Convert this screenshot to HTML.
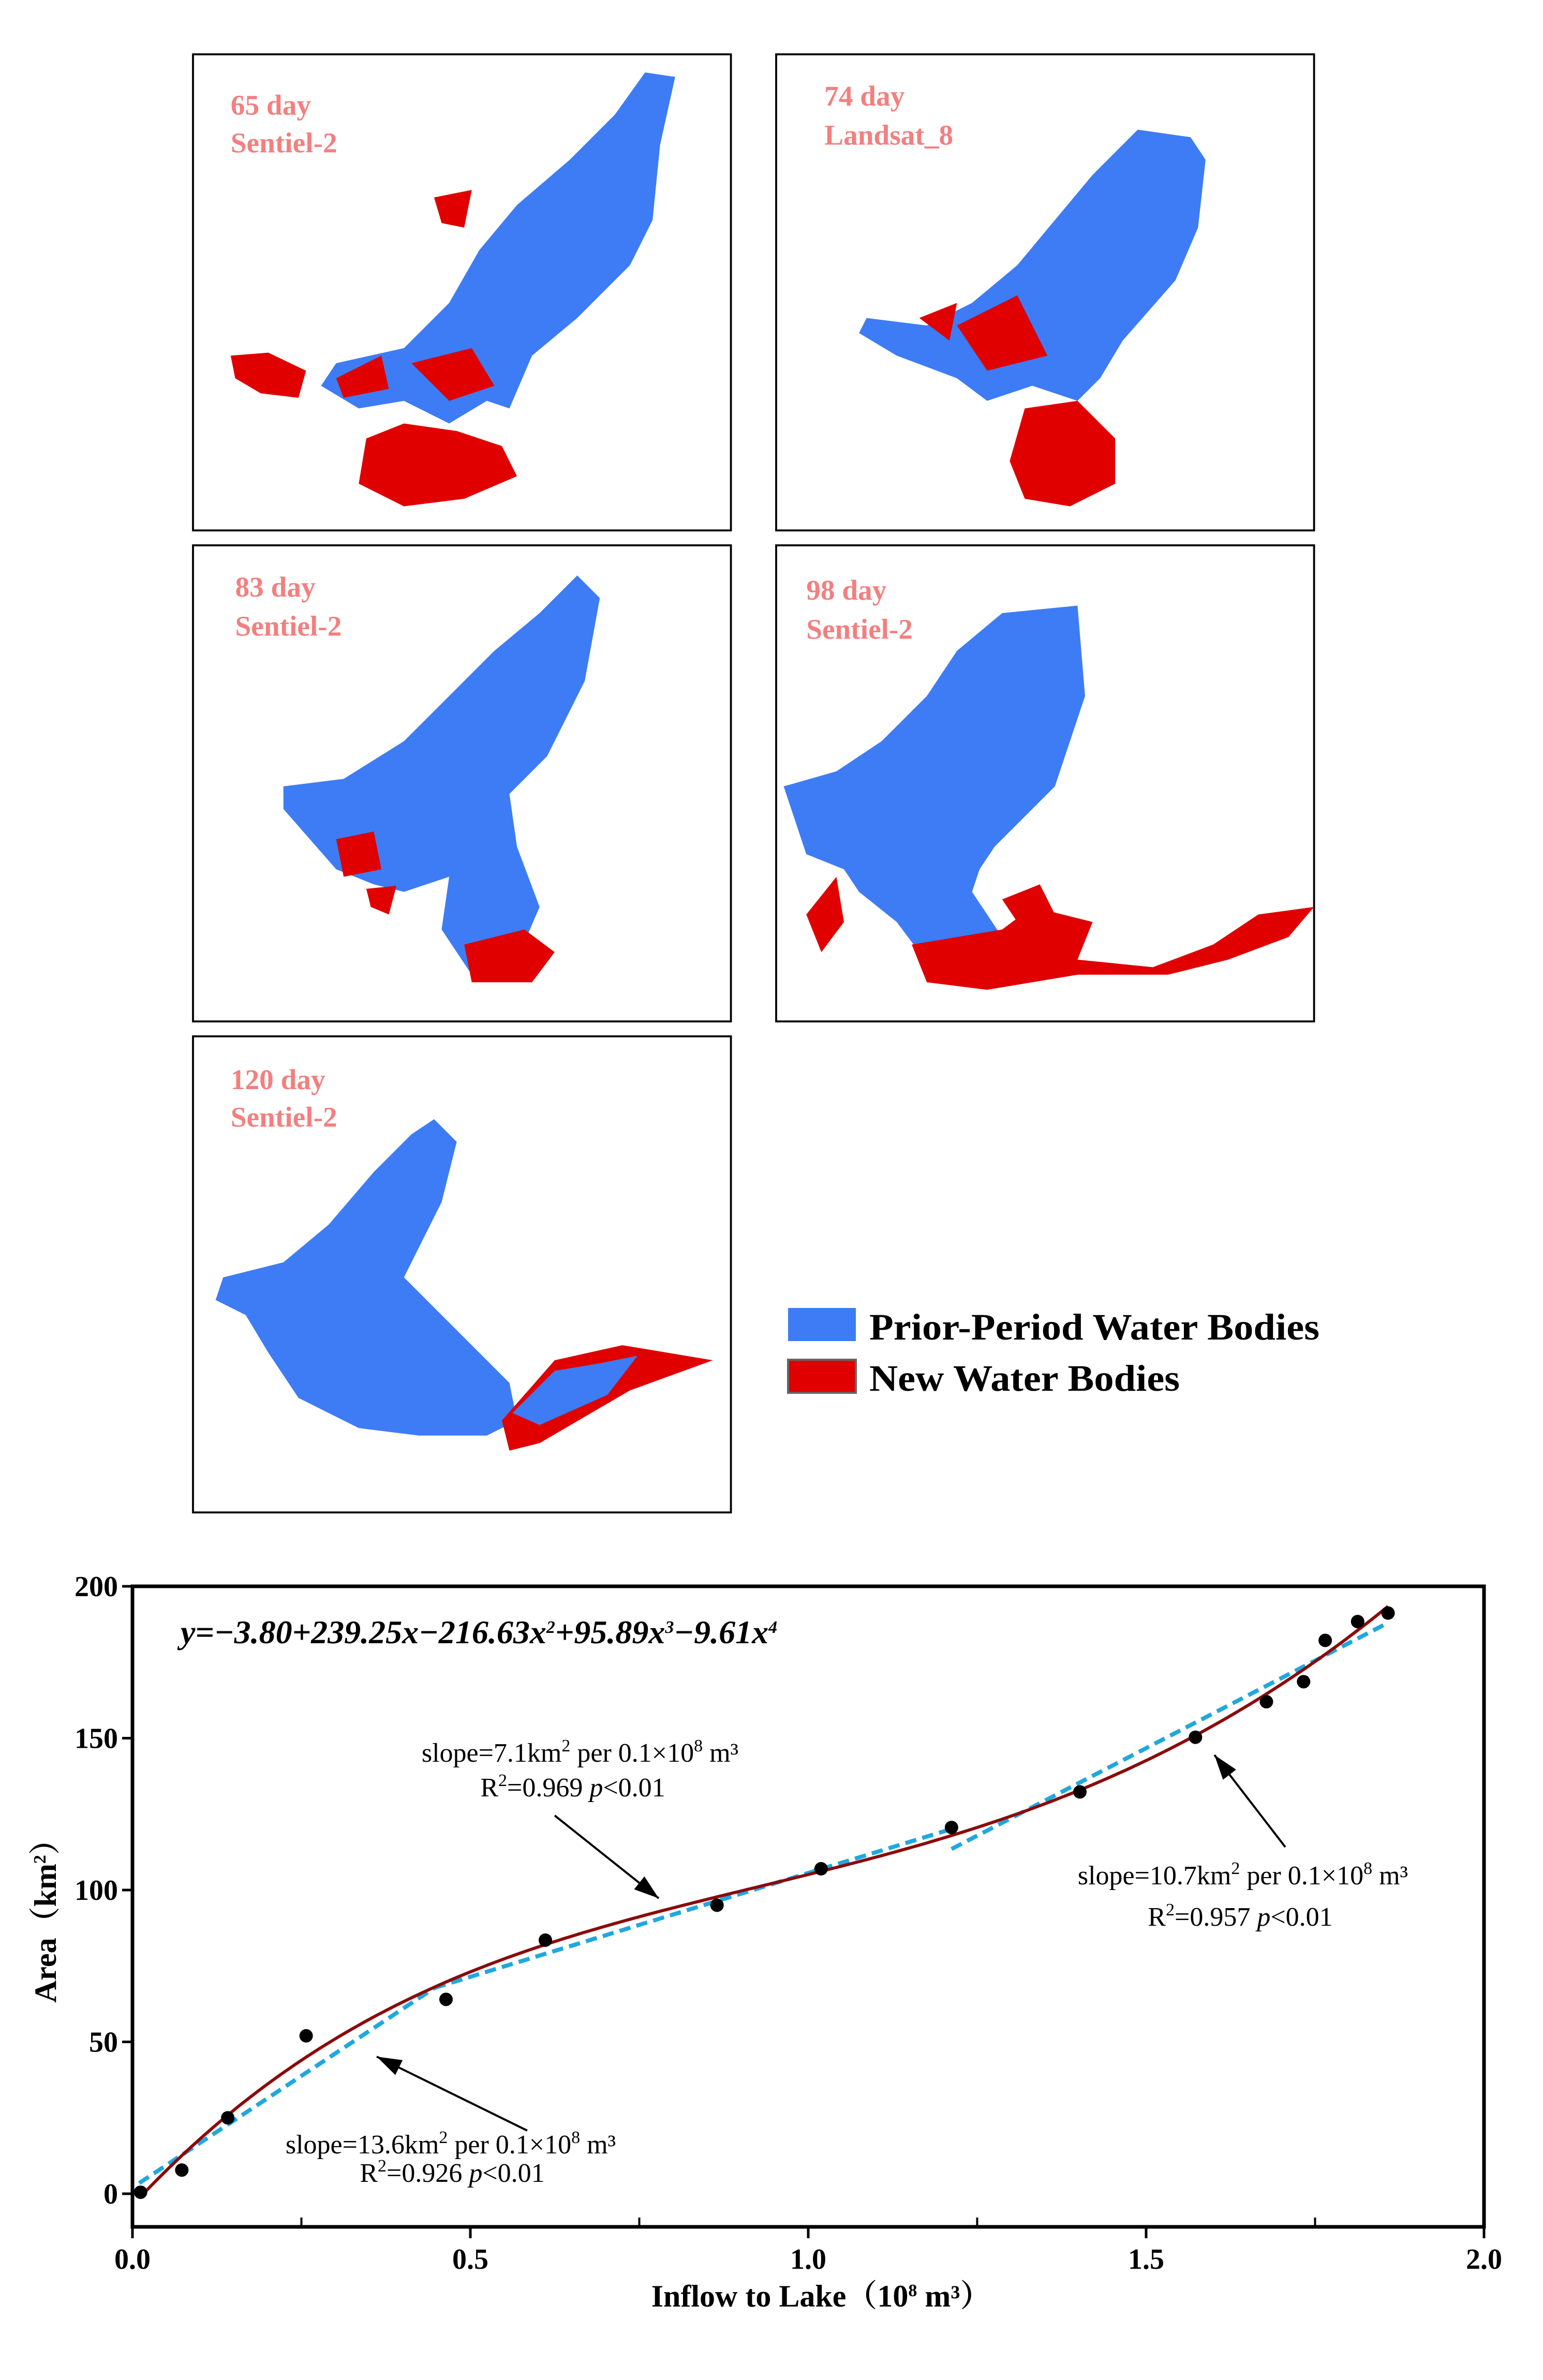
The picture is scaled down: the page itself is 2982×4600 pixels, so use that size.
<!DOCTYPE html>
<html><head><meta charset="utf-8"><style>
html,body{margin:0;padding:0;background:#fff}
body{width:2982px;height:4600px;position:relative;overflow:hidden;font-family:"Liberation Serif",serif}
svg{position:absolute;left:0;top:0}
</style></head><body>
<svg id="maps" width="2982" height="3000" viewBox="0 0 2982 3000">
 <g transform="translate(373,105) scale(2.912,2.912)">
  <rect x="0" y="0" width="357" height="316" fill="#fff" stroke="#000" stroke-width="1.3"/>
  <polygon fill="#3d7cf5" points="300,12 320,15 310,60 305,110 290,140 255,175 225,200 210,235 195,230 170,245 140,230 110,235 85,220 95,205 140,195 170,165 190,130 215,100 250,70 280,40"/>
  <polygon fill="#e00000" points="25,200 50,198 75,210 70,228 45,225 28,215"/>
  <polygon fill="#e00000" points="115,255 140,245 175,250 205,260 215,280 180,295 140,300 110,285"/>
  <polygon fill="#e00000" points="145,205 185,195 200,220 170,230"/>
  <polygon fill="#e00000" points="160,95 185,90 180,115 165,112"/>
  <polygon fill="#e00000" points="95,215 125,200 130,222 100,228"/>
  <text x="25" y="40" font-size="19" font-weight="bold" fill="#f37f7f">65 day</text>
  <text x="25" y="65" font-size="19" font-weight="bold" fill="#f37f7f">Sentiel-2</text>
 </g>
 <g transform="translate(1500,105) scale(2.912,2.912)">
  <rect x="0" y="0" width="357" height="316" fill="#fff" stroke="#000" stroke-width="1.3"/>
  <polygon fill="#3d7cf5" points="240,50 275,55 285,70 280,115 265,150 230,190 215,215 200,230 170,220 140,230 120,215 80,200 55,185 60,175 100,180 130,165 160,140 185,110 210,80"/>
  <polygon fill="#e00000" points="165,235 200,230 225,255 225,285 195,300 165,295 155,270"/>
  <polygon fill="#e00000" points="120,180 160,160 180,200 140,210"/>
  <polygon fill="#e00000" points="95,175 120,165 115,190"/>
  <text x="32" y="34" font-size="19" font-weight="bold" fill="#f37f7f">74 day</text>
  <text x="32" y="60" font-size="19" font-weight="bold" fill="#f37f7f">Landsat_8</text>
 </g>
 <g transform="translate(373,1054) scale(2.912,2.912)">
  <rect x="0" y="0" width="357" height="316" fill="#fff" stroke="#000" stroke-width="1.3"/>
  <polygon fill="#3d7cf5" points="255,20 270,35 260,90 235,140 210,165 215,200 230,240 215,275 185,285 165,255 170,220 140,230 120,225 95,215 60,175 60,160 100,155 140,130 170,100 200,70 230,45"/>
  <polygon fill="#e00000" points="95,195 120,190 125,215 100,220"/>
  <polygon fill="#e00000" points="180,265 220,255 240,270 225,290 185,290"/>
  <polygon fill="#e00000" points="115,228 135,226 130,245 118,240"/>
  <text x="28" y="34" font-size="19" font-weight="bold" fill="#f37f7f">83 day</text>
  <text x="28" y="60" font-size="19" font-weight="bold" fill="#f37f7f">Sentiel-2</text>
 </g>
 <g transform="translate(1500,1054) scale(2.912,2.912)">
  <rect x="0" y="0" width="357" height="316" fill="#fff" stroke="#000" stroke-width="1.3"/>
  <polygon fill="#3d7cf5" points="150,45 200,40 205,100 185,160 145,200 135,215 130,230 150,260 155,280 120,285 95,270 80,250 55,230 45,215 20,205 5,160 40,150 70,130 100,100 120,70"/>
  <polygon fill="#e00000" points="90,265 150,255 170,240 210,250 200,275 250,280 290,265 320,245 357,240 340,260 300,275 260,285 200,285 140,295 100,290"/>
  <polygon fill="#e00000" points="20,245 40,220 45,250 30,270"/>
  <polygon fill="#e00000" points="150,235 175,225 185,245 160,250"/>
  <text x="20" y="36" font-size="19" font-weight="bold" fill="#f37f7f">98 day</text>
  <text x="20" y="62" font-size="19" font-weight="bold" fill="#f37f7f">Sentiel-2</text>
 </g>
 <g transform="translate(373,2003) scale(2.912,2.912)">
  <rect x="0" y="0" width="357" height="316" fill="#fff" stroke="#000" stroke-width="1.3"/>
  <polygon fill="#3d7cf5" points="160,55 175,70 165,110 150,140 140,160 170,190 210,230 215,255 195,265 150,265 110,260 70,240 50,210 35,185 15,175 20,160 60,150 90,125 120,90 145,65"/>
  <polygon fill="#e00000" points="205,255 240,215 285,205 345,215 290,235 230,270 210,275"/>
  <polygon fill="#3d7cf5" points="212,250 240,222 270,217 295,212 275,238 230,258"/>
  <text x="25" y="35" font-size="19" font-weight="bold" fill="#f37f7f">120 day</text>
  <text x="25" y="60" font-size="19" font-weight="bold" fill="#f37f7f">Sentiel-2</text>
 </g>
 <g>
  <rect x="1523" y="2528" width="131" height="64" fill="#3d7cf5"/>
  <rect x="1523" y="2628" width="131" height="64" fill="#e00000" stroke="#666" stroke-width="4"/>
  <text x="1680" y="2589" font-size="72" font-weight="bold" textLength="870" lengthAdjust="spacingAndGlyphs">Prior-Period Water Bodies</text>
  <text x="1680" y="2688" font-size="72" font-weight="bold" textLength="600" lengthAdjust="spacingAndGlyphs">New Water Bodies</text>
 </g>
</svg>
<svg id="chart" width="2982" height="1600" viewBox="0 3000 2982 1600" style="top:3000px"></svg>
<script>
const xs=[0.012,0.073,0.141,0.257,0.464,0.611,0.865,1.019,1.212,1.402,1.573,1.678,1.733,1.765,1.813,1.858];
const ys=[0.5,7.8,25,52,64,83.5,95,107,120.6,132.3,150.3,162,168.6,182.2,188.4,191.2];
const polyCoef=[-3.80,239.25,-216.63,95.89,-9.61];
const fitSegs=[[0.01,3.5,0.447,67.8],[0.447,67.8,1.215,120.3],[1.212,113.5,1.858,188]];
const xTicks=[0,0.5,1.0,1.5,2.0];
const xTickLabels=["0.0","0.5","1.0","1.5","2.0"];
const yTicks=[0,50,100,150,200];
const NS="http://www.w3.org/2000/svg";
const svg=document.getElementById('chart');
const L=256,R=2868,T=3066,B=4304,Y0=4240,Y200=3066;
function X(v){return L+v/2*(R-L);}
function Y(v){return Y0+(Y200-Y0)*v/200;}
function mk(t,a,p){const e=document.createElementNS(NS,t);for(const k in a)e.setAttribute(k,a[k]);(p||svg).appendChild(e);return e;}
let e;
e=mk('rect',{x:L,y:T,width:R-L,height:B-T,fill:'none',stroke:'#000','stroke-width':7});


xTicks.forEach((v,i)=>{
 e=mk('line',{x1:X(v),x2:X(v),y1:B,y2:B+22,stroke:'#000','stroke-width':5});
 
 
 if(i<xTicks.length-1){mk('line',{x1:X(v+0.25),x2:X(v+0.25),y1:B,y2:B-18,stroke:'#000','stroke-width':4});}
 e=mk('text',{x:X(v),y:4385,'font-size':56,'font-weight':'bold','text-anchor':'middle'});
 e.textContent=xTickLabels[i];
 
 
});
yTicks.forEach(v=>{
 e=mk('line',{x1:L-20,x2:L,y1:Y(v),y2:Y(v),stroke:'#000','stroke-width':5});
 
 
 e=mk('text',{x:L-28,y:Y(v)+19,'font-size':56,'font-weight':'bold','text-anchor':'end'});
 e.textContent=String(v);
 
 
});
fitSegs.forEach(s=>{
 e=mk('line',{x1:X(s[0]),y1:Y(s[1]),x2:X(s[2]),y2:Y(s[3]),stroke:'#1fa8e0','stroke-width':8,'stroke-dasharray':'22 12'});
 
 
});
let d='';
for(let i=0;i<=200;i++){const x=0.01+(1.858-0.01)*i/200;let y=0;polyCoef.forEach((c,k)=>y+=c*Math.pow(x,k));d+=(i?'L':'M')+X(x).toFixed(1)+','+Y(y).toFixed(1);}
e=mk('path',{d:d,fill:'none',stroke:'#8b0a0a','stroke-width':6});


xs.forEach((x,i)=>{
 e=mk('circle',{cx:X(x),cy:Y(ys[i]),r:13,fill:'#000'});
 
 
});
[[1019,4118,728,3975],[1072,3509,1273,3669],[2484,3570,2347,3392]].forEach(a=>{
 e=mk('line',{x1:a[0],y1:a[1],x2:a[2],y2:a[3],stroke:'#000','stroke-width':4});
 
 
 const ang=Math.atan2(a[3]-a[1],a[2]-a[0]),s=48,w=16;
 mk('polygon',{points:`${a[2]},${a[3]} ${a[2]-s*Math.cos(ang)+w*Math.sin(ang)},${a[3]-s*Math.sin(ang)-w*Math.cos(ang)} ${a[2]-s*Math.cos(ang)-w*Math.sin(ang)},${a[3]-s*Math.sin(ang)+w*Math.cos(ang)}`,fill:'#000'});
});
function txt(x,y,html,name,size,extra){
 e=mk('text',Object.assign({x:x,y:y,'font-size':size||52,'text-anchor':'middle'},extra||{}));
 e.innerHTML=html;
 
 
}
const sup=s=>`<tspan dy="-20" font-size="34">${s}</tspan><tspan dy="20">`;
txt(1121,3405,`slope=7.1km${sup('2')} per 0.1×10${sup('8')} m³</tspan></tspan>`,'annotation-middle-slope');
txt(1107,3472,`R${sup('2')}=0.969 <tspan font-style="italic">p</tspan>&lt;0.01</tspan>`,'annotation-middle-r2');
txt(2402,3642,`slope=10.7km${sup('2')} per 0.1×10${sup('8')} m³</tspan></tspan>`,'annotation-right-slope');
txt(2397,3722,`R${sup('2')}=0.957 <tspan font-style="italic">p</tspan>&lt;0.01</tspan>`,'annotation-right-r2');
txt(871,4162,`slope=13.6km${sup('2')} per 0.1×10${sup('8')} m³</tspan></tspan>`,'annotation-left-slope');
txt(874,4217,`R${sup('2')}=0.926 <tspan font-style="italic">p</tspan>&lt;0.01</tspan>`,'annotation-left-r2');
txt(349,3176,`y=−3.80+239.25x−216.63x${sup('2')}+95.89x</tspan>${sup('3')}−9.61x</tspan>${sup('4')}</tspan>`,'regression-equation',64,{'text-anchor':'start','font-style':'italic','font-weight':'bold'});
txt(1587,4458,`Inflow to Lake（10${sup('8')} m³）</tspan>`,'x-axis-title',60,{'font-weight':'bold','font-family':'"Liberation Serif","Noto Serif CJK SC",serif'});
txt(0,0,`Area（km${sup('2')}）</tspan>`,'y-axis-title',60,{'font-weight':'bold','transform':'translate(108,3698) rotate(-90)','font-family':'"Liberation Serif","Noto Serif CJK SC",serif'});
</script>
</body></html>
